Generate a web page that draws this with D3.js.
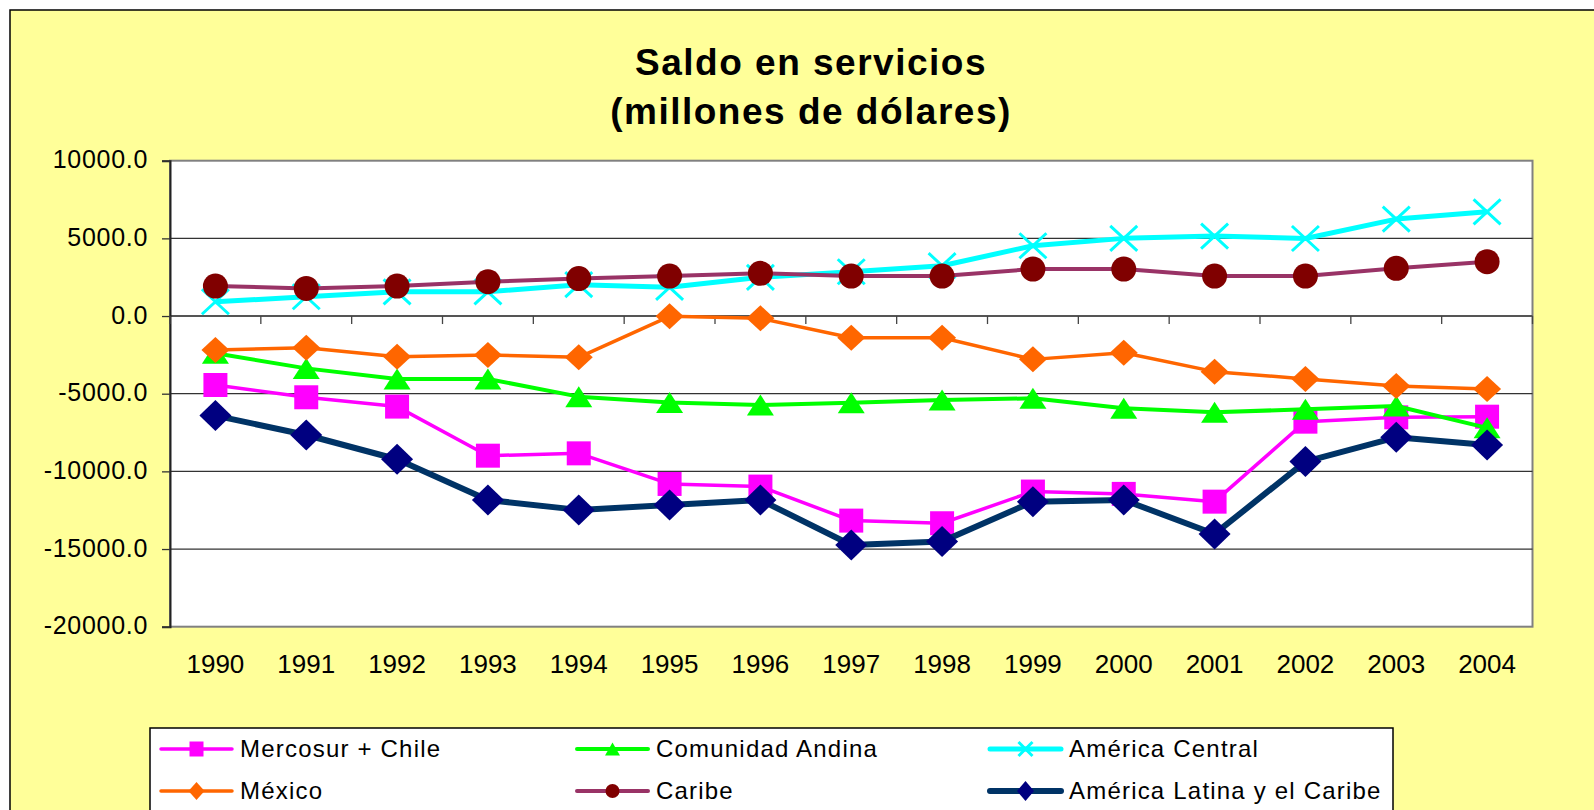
<!DOCTYPE html>
<html>
<head>
<meta charset="utf-8">
<script src="https://cdn.jsdelivr.net/npm/d3@7"></script>
<style>
  body { margin: 0; background: #fff; }
  svg { display: block; font-family: "Liberation Sans", Arial, sans-serif; }
</style>
</head>
<body>
<div id="chart"></div>
<script>
// données (millones de dólares)
const years = ["1990", "1991", "1992", "1993", "1994", "1995", "1996", "1997", "1998", "1999", "2000", "2001", "2002", "2003", "2004"];
const mercosur = [-4440, -5230, -5830, -8990, -8840, -10810, -10980, -13170, -13340, -11300, -11450, -11950, -6800, -6520, -6480];
const andina = [-2400, -3370, -4050, -4050, -5190, -5560, -5730, -5580, -5400, -5300, -5940, -6200, -6000, -5790, -7200];
const central = [920, 1240, 1560, 1560, 2020, 1850, 2490, 2850, 3240, 4525, 5000, 5150, 4990, 6240, 6710];
const mexico = [-2190, -2040, -2620, -2510, -2660, -20, -150, -1395, -1395, -2790, -2360, -3580, -4050, -4500, -4700];
const caribe = [1930, 1780, 1930, 2210, 2410, 2574, 2750, 2574, 2574, 3024, 3024, 2574, 2574, 3070, 3500];
const alc = [-6410, -7660, -9220, -11840, -12480, -12160, -11840, -14740, -14520, -11950, -11840, -14030, -9370, -7810, -8300];
const yTicks = [10000, 5000, 0, -5000, -10000, -15000, -20000];

const series = [
    { name: "Mercosur + Chile", values: mercosur, line: "#FF00FF", fill: "#FF00FF", width: 3.5, marker: "square", size: [24, 24], lsize: [14, 15] },
    { name: "Comunidad Andina", values: andina, line: "#00FF00", fill: "#00FF00", width: 4, marker: "triangle", size: [27, 21], lsize: [15, 13] },
    { name: "América Central", values: central, line: "#00FFFF", fill: "#00FFFF", width: 5, marker: "cross", size: [27, 25], lsize: [14, 14] },
    { name: "México", values: mexico, line: "#FF6600", fill: "#FF6600", width: 3.5, marker: "diamond", size: [28, 26], lsize: [16, 18] },
    { name: "Caribe", values: caribe, line: "#993366", fill: "#800000", width: 4, marker: "circle", size: [25, 25], lsize: [14, 14] },
    { name: "América Latina y el Caribe", values: alc, line: "#003366", fill: "#000080", width: 6, marker: "diamond", size: [32, 31], lsize: [17, 20] }
];

const W = 1594, H = 810;
const plot = { left: 170, right: 1532.5, top: 160.7, bottom: 626.7 };

const svg = d3.select("#chart").append("svg")
    .attr("width", W)
    .attr("height", H);

// fond jaune + cadre
svg.append("rect")
    .attr("x", 10).attr("y", 10)
    .attr("width", W + 20).attr("height", H + 20)
    .attr("fill", "#FFFF99")
    .attr("stroke", "#000")
    .attr("stroke-width", 1.5);

// titre
const title = svg.append("text")
    .attr("text-anchor", "middle")
    .attr("font-weight", "bold")
    .attr("font-size", 37)
    .attr("letter-spacing", 1.5)
    .attr("fill", "#000");
title.append("tspan").attr("x", 811).attr("y", 75).text("Saldo en servicios");
title.append("tspan").attr("x", 811).attr("y", 124).text("(millones de dólares)");

const x = d3.scaleBand().domain(years).range([plot.left, plot.right]).padding(0);
const y = d3.scaleLinear().domain([-20000, 10000]).range([plot.bottom, plot.top]);
const cx = d => x(d) + x.bandwidth() / 2;

// zone de tracé
svg.append("rect")
    .attr("x", plot.left).attr("y", plot.top)
    .attr("width", plot.right - plot.left).attr("height", plot.bottom - plot.top)
    .attr("fill", "#fff")
    .attr("stroke", "#808080")
    .attr("stroke-width", 2);

// quadrillage
svg.append("g")
    .selectAll("line")
    .data(yTicks.filter(v => v < 10000 && v > -20000))
    .enter()
    .append("line")
    .attr("x1", plot.left).attr("x2", plot.right)
    .attr("y1", d => y(d)).attr("y2", d => y(d))
    .attr("stroke", d => d === 0 ? "#555" : "#333")
    .attr("stroke-width", d => d === 0 ? 2 : 1.3);

// axe Y
const yAxis = svg.append("g")
    .attr("transform", `translate(${plot.left},0)`)
    .call(d3.axisLeft(y).tickValues(yTicks).tickSize(8).tickPadding(14).tickFormat(d => d.toFixed(1)));
yAxis.select(".domain").attr("stroke", "#222").attr("stroke-width", 2);
yAxis.selectAll(".tick line").attr("stroke", "#333").attr("stroke-width", 1.3);
yAxis.selectAll(".tick text")
    .attr("font-family", "Liberation Sans, Arial, sans-serif")
    .attr("font-size", 25)
    .attr("letter-spacing", 0.7)
    .attr("fill", "#000")
    .attr("dy", "0.28em");

// graduations de l'axe des catégories (sur la ligne du zéro)
const bounds = years.map(d => x(d)).concat([plot.right]);
svg.append("g")
    .selectAll("line")
    .data(bounds)
    .enter()
    .append("line")
    .attr("x1", d => d).attr("x2", d => d)
    .attr("y1", y(0)).attr("y2", y(0) + 8)
    .attr("stroke", "#444")
    .attr("stroke-width", 1.3);

// étiquettes des années
const xAxis = svg.append("g")
    .attr("transform", `translate(0,${plot.bottom})`)
    .call(d3.axisBottom(x).tickSize(0).tickPadding(0));
xAxis.select(".domain").remove();
xAxis.selectAll(".tick text")
    .attr("font-family", "Liberation Sans, Arial, sans-serif")
    .attr("font-size", 26)
    .attr("fill", "#000")
    .attr("dy", null)
    .attr("y", 46);

// marqueurs
function markerPath(type, w, h) {
    const a = w / 2, b = h / 2;
    if (type === "square") return `M${-a},${-b}H${a}V${b}H${-a}Z`;
    if (type === "triangle") return `M0,${-b}L${a},${b}L${-a},${b}Z`;
    if (type === "diamond") return `M0,${-b}L${a},0L0,${b}L${-a},0Z`;
    if (type === "cross") return `M${-a},${-b}L${a},${b}M${a},${-b}L${-a},${b}`;
    if (type === "circle") return `M${a},0A${a},${b} 0 1,1 ${-a},0A${a},${b} 0 1,1 ${a},0Z`;
}

function drawMarker(sel, s, size) {
    sel.append("path")
        .attr("d", markerPath(s.marker, size[0], size[1]))
        .attr("fill", s.marker === "cross" ? "none" : s.fill)
        .attr("stroke", s.marker === "cross" ? s.fill : "none")
        .attr("stroke-width", s.marker === "cross" ? 3 : 0);
}

const line = d3.line()
    .x((d, i) => cx(years[i]))
    .y(d => y(d));

series.forEach(s => {
    const g = svg.append("g");
    g.append("path")
        .datum(s.values)
        .attr("d", line)
        .attr("fill", "none")
        .attr("stroke", s.line)
        .attr("stroke-width", s.width)
        .attr("stroke-linejoin", "round");

    g.selectAll("g.pt")
        .data(s.values)
        .enter()
        .append("g")
        .attr("class", "pt")
        .attr("transform", (d, i) => `translate(${cx(years[i])},${y(d)})`)
        .each(function() { drawMarker(d3.select(this), s, s.size); });
});

// légende
svg.append("rect")
    .attr("x", 150).attr("y", 728)
    .attr("width", 1243).attr("height", 120)
    .attr("fill", "#fff")
    .attr("stroke", "#000")
    .attr("stroke-width", 1.5);

const legendCols = [161, 577, 990];
const legendRows = [749, 791];

const items = svg.append("g")
    .selectAll("g")
    .data(series)
    .enter()
    .append("g")
    .attr("transform", (d, i) => `translate(${legendCols[i % 3]},${legendRows[Math.floor(i / 3)]})`);

items.append("line")
    .attr("x1", 0).attr("x2", 71)
    .attr("y1", 0).attr("y2", 0)
    .attr("stroke", d => d.line)
    .attr("stroke-width", d => d.width)
    .attr("stroke-linecap", "round");

items.append("g")
    .attr("transform", "translate(35.5,0)")
    .each(function(d) { drawMarker(d3.select(this), d, d.lsize); });

items.append("text")
    .attr("x", 79)
    .attr("y", 8)
    .attr("font-size", 24)
    .attr("letter-spacing", 1.2)
    .attr("fill", "#000")
    .text(d => d.name);
</script>
</body>
</html>
